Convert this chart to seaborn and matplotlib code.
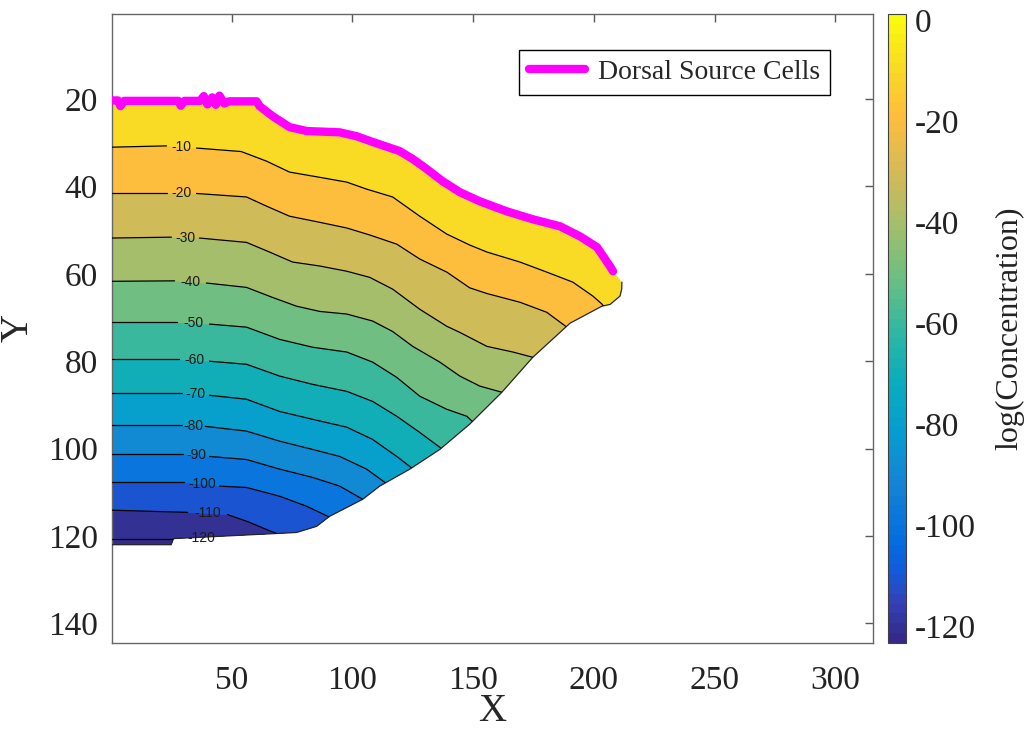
import numpy as np
import matplotlib
matplotlib.use("Agg")
import matplotlib.pyplot as plt
import seaborn as sns
from matplotlib.colors import LinearSegmentedColormap, Normalize
from matplotlib.patches import Polygon
from matplotlib.cm import ScalarMappable

# colour limits of log(concentration)
c_min, c_max = -123.4, 1.2
cbar_ticks = [-120, -100, -80, -60, -40, -20, 0]
x_ticks = [50, 100, 150, 200, 250, 300]
y_ticks = [20, 40, 60, 80, 100, 120, 140]

# dorsal source cells along the top edge of the tissue
source_x = [0.5, 3.0, 4.0, 5.5, 28.0, 29.0, 30.5, 37.0, 38.5, 40.0, 42.0, 43.5, 45.0, 47.0,
            49.0, 60.4, 61.6, 67.0, 74.0, 81.1, 94.8, 101.8, 108.4, 119.6, 125.0, 130.8,
            137.4, 144.5, 152.8, 164.0, 174.7, 185.9, 194.2, 201.3, 206.7, 207.9]
source_y = [20.3, 20.3, 21.6, 20.4, 20.4, 21.5, 20.4, 20.4, 19.3, 21.2, 19.6, 21.3, 19.2, 21.0,
            20.5, 20.5, 21.6, 23.9, 26.4, 27.3, 27.6, 28.5, 29.8, 31.9, 33.7, 36.0,
            38.8, 41.3, 43.4, 45.7, 47.5, 49.1, 51.4, 53.9, 58.3, 59.4]

# rest of the tissue outline: right tip, then lower edge back to the left side
edge_x = [211.6, 211.5, 210.8, 206.7, 203.3, 190.1, 174.7, 161.9, 148.6, 136.2, 123.8,
          111.3, 104.3, 90.6, 85.2, 76.9, 69.9, 26.0, 25.0, 0.5]
edge_y = [61.9, 63.5, 65.1, 67.0, 67.4, 71.3, 79.1, 87.1, 94.4, 100.2, 104.7,
          108.6, 111.6, 115.5, 117.8, 119.2, 119.4, 120.6, 122.0, 122.0]

# contour lines (first two points = left of the inline label, rest = right of it)
x_m10 = [0.5, 23.1, 35.5, 54.0, 64.5, 74.0, 86.5, 97.7, 105.9, 116.7, 127.9, 139.1, 148.6, 155.7, 169.4, 180.5, 191.3, 199.6, 203.3, 208.0]
y_m10 = [31.0, 30.7, 31.2, 32.0, 34.2, 36.7, 37.9, 39.0, 40.6, 42.4, 46.8, 50.9, 53.4, 55.0, 57.3, 59.6, 61.9, 65.1, 66.9, 70.0]
x_m20 = [0.5, 23.1, 35.5, 56.2, 64.5, 74.0, 86.5, 97.7, 107.2, 118.4, 127.9, 139.1, 148.6, 155.7, 169.4, 180.5, 188.8, 193.0]
y_m20 = [41.5, 41.5, 41.6, 42.4, 44.5, 46.8, 48.2, 49.5, 51.1, 53.2, 56.6, 59.6, 63.2, 64.5, 66.5, 68.8, 72.2, 75.0]
x_m30 = [0.5, 25.1, 36.7, 56.2, 65.7, 75.3, 86.5, 97.7, 107.2, 116.7, 127.9, 139.1, 144.5, 155.7, 166.5, 174.7, 179.0]
y_m30 = [51.8, 51.6, 51.8, 52.8, 55.0, 57.3, 58.2, 59.4, 60.8, 63.5, 68.1, 72.0, 73.4, 76.6, 77.9, 79.1, 81.0]
x_m40 = [0.5, 26.4, 39.6, 56.2, 67.0, 76.9, 86.5, 97.7, 108.4, 116.7, 125.0, 136.2, 144.5, 152.8, 161.9, 166.0]
y_m40 = [61.7, 61.6, 62.1, 63.1, 65.4, 67.4, 68.6, 69.2, 70.8, 73.2, 76.6, 80.2, 83.4, 85.7, 87.1, 88.5]
x_m50 = [0.5, 27.6, 40.9, 56.2, 69.9, 83.6, 97.7, 108.4, 118.4, 127.9, 139.1, 147.4, 152.0]
y_m50 = [71.1, 71.1, 71.5, 72.2, 75.0, 76.8, 77.9, 80.2, 83.7, 88.0, 91.0, 92.6, 95.0]
x_m60 = [0.5, 28.4, 40.9, 56.2, 69.9, 83.6, 97.7, 108.4, 118.4, 127.9, 136.2, 141.0]
y_m60 = [79.6, 79.6, 80.0, 80.7, 83.4, 85.3, 86.9, 89.2, 92.6, 96.3, 99.7, 101.5]
x_m70 = [0.5, 29.3, 40.9, 56.2, 69.9, 83.6, 97.7, 108.4, 118.4, 123.8, 128.0]
y_m70 = [87.3, 87.3, 87.8, 88.7, 91.5, 93.3, 95.1, 97.9, 101.8, 104.1, 106.0]
x_m80 = [0.5, 29.3, 39.1, 56.2, 69.9, 83.6, 94.8, 105.9, 113.4, 118.0]
y_m80 = [94.7, 94.7, 94.9, 96.0, 98.3, 100.2, 101.8, 104.7, 107.7, 110.0]
x_m90 = [0.5, 29.7, 40.9, 56.2, 69.9, 83.6, 94.8, 104.3, 108.0]
y_m90 = [101.3, 101.3, 101.8, 102.5, 104.7, 106.6, 108.6, 111.6, 113.5]
x_m100 = [0.5, 30.5, 45.0, 56.2, 69.9, 81.1, 89.8, 94.0]
y_m100 = [107.7, 107.7, 108.6, 108.9, 110.9, 113.2, 115.5, 116.5]
x_m110 = [0.5, 31.8, 48.3, 56.6, 66.6, 67.8, 72.0]
y_m110 = [114.1, 114.6, 115.1, 116.7, 119.0, 119.2, 121.0]
x_m120 = [0.5, 29.0, 46.0, 69.9]
y_m120 = [120.6, 120.6, 120.4, 119.6]

contour_lines = [
    (-10, x_m10, y_m10), (-20, x_m20, y_m20), (-30, x_m30, y_m30),
    (-40, x_m40, y_m40), (-50, x_m50, y_m50), (-60, x_m60, y_m60),
    (-70, x_m70, y_m70), (-80, x_m80, y_m80), (-90, x_m90, y_m90),
    (-100, x_m100, y_m100), (-110, x_m110, y_m110), (-120, x_m120, y_m120),
]

# parula-like colormap (64 steps like MATLAB)
parula_pts = [
    (0 / 63, (0.2081, 0.1663, 0.5292)),
    (4 / 63, (0.1959, 0.2645, 0.7279)),
    (7 / 63, (0.0591, 0.3598, 0.8683)),
    (10 / 63, (0.0165, 0.4266, 0.8786)),
    (16 / 63, (0.0793, 0.5200, 0.8312)),
    (21 / 63, (0.0265, 0.6137, 0.8135)),
    (26 / 63, (0.0384, 0.6743, 0.7436)),
    (31 / 63, (0.1801, 0.7177, 0.6424)),
    (36 / 63, (0.3953, 0.7459, 0.5244)),
    (42 / 63, (0.6473, 0.7456, 0.4188)),
    (48 / 63, (0.8507, 0.7299, 0.3360)),
    (53 / 63, (0.9938, 0.7455, 0.2403)),
    (57 / 63, (0.9788, 0.8271, 0.1633)),
    (63 / 63, (0.9763, 0.9831, 0.0538)),
]
parula = LinearSegmentedColormap.from_list("parula", parula_pts, N=64)
norm = Normalize(vmin=c_min, vmax=c_max, clip=True)

sns.set_style("white")
plt.rcParams["font.family"] = ["Liberation Serif", "DejaVu Serif"]
plt.rcParams["axes.unicode_minus"] = False

fig = plt.figure(figsize=(10.3, 7.34), dpi=100)
ax = fig.add_axes([0.1087, 0.124, 0.7388, 0.857])
cax = fig.add_axes([0.8621, 0.124, 0.0175, 0.857])

# tissue area, filled with the top band colour
outline = np.column_stack([source_x + edge_x, source_y + edge_y])
domain = Polygon(outline, closed=True, facecolor=parula(norm(-10)), edgecolor="none", zorder=1)
ax.add_patch(domain)

# bands: everything below a level line gets the colour of the next level down
for lvl, xs, ys in contour_lines:
    band = ax.fill_between(xs, ys, 135, color=parula(norm(lvl - 10)), lw=0, zorder=2)
    band.set_clip_path(domain)

# outline of the lower edge
sns.lineplot(x=edge_x, y=edge_y, color="0.15", lw=0.9, sort=False, estimator=None, ax=ax, zorder=3)

# contour lines with inline labels
for lvl, xs, ys in contour_lines:
    for seg_x, seg_y in [(xs[:2], ys[:2]), (xs[2:], ys[2:])]:
        sns.lineplot(x=seg_x, y=seg_y, color="k", lw=0.9, sort=False, estimator=None, ax=ax, zorder=4)
        ax.lines[-1].set_clip_path(domain)
        ax.lines[-1].set_solid_joinstyle("round")
    ax.text((xs[1] + xs[2]) / 2, (ys[1] + ys[2]) / 2, f"{lvl}", ha="center", va="center",
            fontsize=10, family="Liberation Sans", color="0.1", zorder=5)

# source cells
sns.lineplot(x=source_x, y=source_y, color="#ff00ff", lw=6, sort=False, estimator=None,
             label="Dorsal Source Cells", ax=ax, zorder=6)

ax.set_xlim(0.5, 315.5)
ax.set_ylim(144.5, 0.5)
ax.set_xticks(x_ticks)
ax.set_yticks(y_ticks)
ax.tick_params(direction="in", length=6, width=1, top=True, right=True, color="0.35",
               labelsize=24, labelcolor="#222222")
ax.tick_params(axis="x", pad=16)
ax.tick_params(axis="y", pad=10)
for sp in ax.spines.values():
    sp.set_color("0.4")
    sp.set_linewidth(1.0)
ax.set_xlabel("X", fontsize=28, labelpad=-2)
ax.set_ylabel("Y", fontsize=28, labelpad=8)

leg = ax.legend(loc="upper right", bbox_to_anchor=(0.944, 0.943), borderaxespad=0,
                frameon=True, fancybox=False, framealpha=1, edgecolor="black",
                prop={"family": "Liberation Serif", "size": 20}, handlelength=2.0,
                borderpad=0.35, handletextpad=0.5)
leg.get_frame().set_linewidth(1.0)

# colourbar
cb = fig.colorbar(ScalarMappable(norm=norm, cmap=parula), cax=cax)
cb.set_ticks(cbar_ticks)
cb.ax.tick_params(labelsize=24, direction="in", length=4, color="0.3", labelcolor="#222222", pad=6)
cb.outline.set_edgecolor("0.25")
cb.outline.set_linewidth(0.8)
cb.set_label("log(Concentration)", fontsize=23, labelpad=14, color="#222222")

fig.savefig("out.png", dpi=100)
